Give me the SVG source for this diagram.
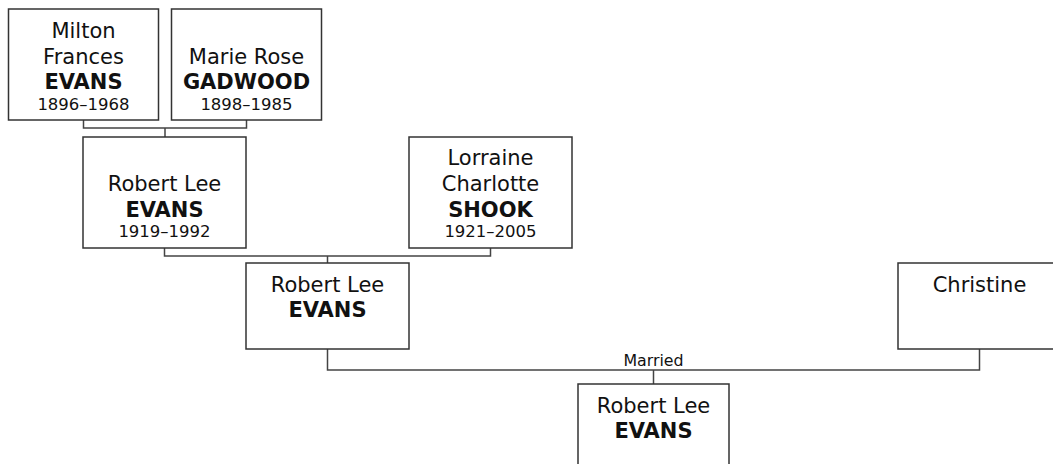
<svg xmlns="http://www.w3.org/2000/svg" width="1053" height="464" viewBox="0 0 1053 464">
<style>
.box{fill:#fff;stroke:#333;stroke-width:1.5}
.con{fill:none;stroke:#444;stroke-width:1.5}
text{font-family:"DejaVu Sans",Verdana,sans-serif;fill:#111;text-anchor:middle}
.n{font-size:21px}
.b{font-size:21px;font-weight:bold}
.y{font-size:16.5px}
.lbl{font-size:15.8px}
</style>
<rect width="1053" height="464" fill="#fff"/>
<g id="connectors">
<path class="con" d="M83.5,120 V128 H246.5 V120 M165,128 V137"/>
<path class="con" d="M164.5,248 V256 H490.5 V248 M327.5,256 V263"/>
<path class="con" d="M327.5,349 V370 H979.5 V349 M653.5,370 V384"/>
<text class="lbl" x="653.5" y="366">Married</text>
</g>
<g id="milton">
<rect class="box" x="8.5" y="9" width="150" height="111"/>
<text class="n" x="83.5" y="38">Milton</text>
<text class="n" x="83.5" y="64">Frances</text>
<text class="b" x="83.5" y="89">EVANS</text>
<text class="y" x="83.5" y="110">1896–1968</text>
</g>
<g id="marie">
<rect class="box" x="171.5" y="9" width="150" height="111"/>
<text class="n" x="246.5" y="64">Marie Rose</text>
<text class="b" x="246.5" y="89">GADWOOD</text>
<text class="y" x="246.5" y="110">1898–1985</text>
</g>
<g id="robert1919">
<rect class="box" x="83" y="137" width="163" height="111"/>
<text class="n" x="164.5" y="191">Robert Lee</text>
<text class="b" x="164.5" y="217">EVANS</text>
<text class="y" x="164.5" y="237">1919–1992</text>
</g>
<g id="lorraine">
<rect class="box" x="409" y="137" width="163" height="111"/>
<text class="n" x="490.5" y="165">Lorraine</text>
<text class="n" x="490.5" y="191">Charlotte</text>
<text class="b" x="490.5" y="217">SHOOK</text>
<text class="y" x="490.5" y="237">1921–2005</text>
</g>
<g id="robert">
<rect class="box" x="246" y="263" width="163" height="86"/>
<text class="n" x="327.5" y="292">Robert Lee</text>
<text class="b" x="327.5" y="317">EVANS</text>
</g>
<g id="christine">
<rect class="box" x="898" y="263" width="163" height="86"/>
<text class="n" x="979.5" y="292">Christine</text>
</g>
<g id="robert-child">
<rect class="box" x="578" y="384" width="151" height="90"/>
<text class="n" x="653.5" y="413">Robert Lee</text>
<text class="b" x="653.5" y="438">EVANS</text>
</g>
</svg>
